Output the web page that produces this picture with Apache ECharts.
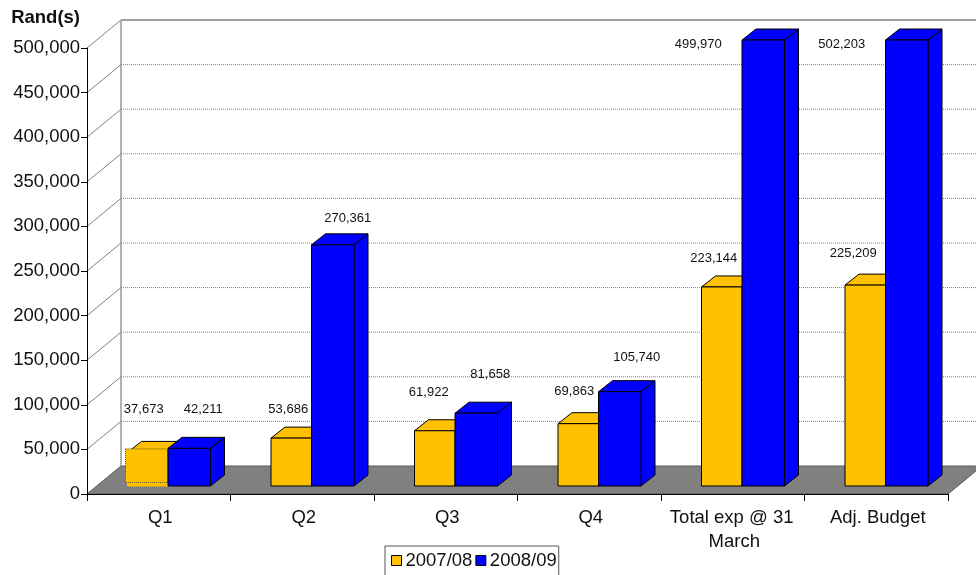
<!DOCTYPE html>
<html>
<head>
<meta charset="utf-8">
<style>html,body{margin:0;padding:0;background:#fff;overflow:hidden}#c{width:976px;height:575px}</style>
<script src="https://cdn.jsdelivr.net/npm/echarts@6/dist/echarts.min.js"></script>
</head>
<body>
<div id="c"></div>
<script>
const categories = ['Q1', 'Q2', 'Q3', 'Q4', 'Total exp @ 31 March', 'Adj. Budget'];
const seriesNames = ['2007/08', '2008/09'];
const values0708 = [37673, 53686, 61922, 69863, 223144, 225209];
const values0809 = [42211, 270361, 81658, 105740, 499970, 502203];
const axisTicks = [0, 50000, 100000, 150000, 200000, 250000, 300000, 350000, 400000, 450000, 500000];

// layout constants (pixels)
const AXIS_MAX = 500000;
const WALL_DX = 34, WALL_DY = -28;      // depth of the 3D box
const BAR_W0 = 40.5, BAR_W1 = 42.5, BAR_DX = 9.25, BAR_DY = -8; // bar placement on the floor
const SIDE_DX = 14, SIDE_DY = -11;      // depth of each bar
const labelNudge0708 = [[-4,-43],[-3,-29],[-6,-38],[-4,-32],[-8,-29],[-12,-32]];
const labelNudge0809 = [[14,-39],[15,-26],[14,-39],[17,-34],[-65,4],[-65,4]];

const fmt = v => String(v).replace(/\B(?=(\d{3})+$)/g, ',');

function frameItem(params, api) {
  const v = api.value(1);
  const band = api.size([1, 0])[0];
  const p = api.coord([0, v]);
  const x0 = p[0] - band / 2, y = p[1];
  const x1 = x0 + band * categories.length;
  const bx = x0 + WALL_DX, by = y + WALL_DY;
  const children = [];
  if (v === 0) {
    children.push({ type: 'polygon', shape: { points: [[x0, y], [bx, by], [x1 + WALL_DX, by], [x1, y]] },
      style: { fill: '#808080', stroke: '#5a5a5a', lineWidth: 1 } });
  } else {
    children.push({ type: 'line', shape: { x1: x0, y1: y, x2: bx, y2: by },
      style: { stroke: '#808080', lineWidth: 1 } });
    children.push({ type: 'line', shape: { x1: bx, y1: by, x2: x1 + WALL_DX, y2: by },
      style: v === AXIS_MAX ? { stroke: '#808080', lineWidth: 1.5 }
                            : { stroke: '#808080', lineWidth: 1, lineDash: [1, 1] } });
  }
  if (v === AXIS_MAX) {
    const base = api.coord([0, 0]);
    children.push({ type: 'line', shape: { x1: bx, y1: by, x2: bx, y2: base[1] + WALL_DY },
      style: { stroke: '#999', lineWidth: 1.5 } });
  }
  return { type: 'group', children };
}

function barItem(seriesIdx, nudges, color) {
  return function (params, api) {
    const i = api.value(0), raw = api.value(1);
    const shown = Math.min(raw, AXIS_MAX);
    const c = api.coord([i, 0]), t = api.coord([i, shown]);
    const w = seriesIdx === 0 ? BAR_W0 : BAR_W1;
    const xL = c[0] + BAR_DX + (seriesIdx === 0 ? -w : 0);
    const xR = xL + w;
    const yB = c[1] + BAR_DY, yT = t[1] + BAR_DY;
    const selected = seriesIdx === 0 && i === 0;
    const face = { fill: color, stroke: selected ? color : '#000', lineWidth: 1, lineJoin: 'round' };
    const poly = (pts, style) => ({ type: 'polygon', shape: { points: pts }, style: style || face });
    const children = [
      poly([[xR, yB], [xR + SIDE_DX, yB + SIDE_DY], [xR + SIDE_DX, yT + SIDE_DY], [xR, yT]]),
      poly([[xL, yT], [xL + SIDE_DX, yT + SIDE_DY], [xR + SIDE_DX, yT + SIDE_DY], [xR, yT]],
           { fill: color, stroke: '#000', lineWidth: 1, lineJoin: 'round' }),
      poly([[xL, yT], [xR, yT], [xR, yB], [xL, yB]])
    ];
    if (selected) {
      children.push({ type: 'rect', shape: { x: xL - 2, y: yT - 3.5, width: w + 1.5, height: yB - yT },
        style: { fill: color, stroke: '#5e4f1a', lineWidth: 1, lineDash: [1, 1] } });
    }
    const n = nudges[i];
    children.push({ type: 'text', style: {
      x: (xL + xR) / 2 + n[0], y: yT + n[1], text: fmt(raw),
      align: 'center', verticalAlign: 'middle',
      font: '13px "Liberation Sans", Arial, sans-serif', fill: '#111' } });
    return { type: 'group', children };
  };
}

const chart = echarts.init(document.getElementById('c'), null, { renderer: 'canvas' });
chart.setOption({
  animation: false,
  backgroundColor: '#fff',
  textStyle: { fontFamily: '"Liberation Sans", Arial, sans-serif' },
  grid: { left: 87, top: 48, width: 861, height: 446, containLabel: false },
  legend: {
    data: seriesNames, left: 385, top: 546, orient: 'horizontal',
    padding: [5, 2, 40, 6], itemGap: 3, itemWidth: 10, itemHeight: 10,
    borderColor: '#555', borderWidth: 1, backgroundColor: '#fff',
    icon: 'rect',
    itemStyle: { borderColor: '#000', borderWidth: 1 },
    textStyle: { fontSize: 18.5, color: '#111', padding: [3, 0, 0, -1] },
    selectedMode: false
  },
  tooltip: { show: false },
  xAxis: {
    type: 'category', data: categories, z: 6,
    axisLine: { lineStyle: { color: '#000', width: 1 } },
    axisTick: { show: true, length: 7, lineStyle: { color: '#000' } },
    axisLabel: { interval: 0, fontSize: 18.5, color: '#111', margin: 12, lineHeight: 24,
      width: 142, overflow: 'break', padding: [0, 0, 0, 3] },
    splitLine: { show: false }
  },
  yAxis: {
    type: 'value', min: 0, max: AXIS_MAX, interval: 50000, z: 6,
    name: 'Rand(s)', nameLocation: 'end', nameGap: 21,
    nameTextStyle: { fontSize: 18.5, fontWeight: 'bold', color: '#111', align: 'right', padding: [0, 7, 0, 0] },
    axisLine: { show: true, lineStyle: { color: '#000', width: 1 } },
    axisTick: { show: true, length: 6, lineStyle: { color: '#000' } },
    axisLabel: { fontSize: 18.5, color: '#111', margin: 7, padding: [3, 0, 0, 0], formatter: v => fmt(v) },
    splitLine: { show: false }
  },
  series: [
    { type: 'custom', name: 'frame', z: 1, silent: true, renderItem: frameItem,
      encode: { x: 0, y: 1 }, data: axisTicks.map(v => [0, v]) },
    { type: 'custom', name: seriesNames[0], z: 3, itemStyle: { color: '#FFC000' },
      renderItem: barItem(0, labelNudge0708, '#FFC000'), encode: { x: 0, y: 1 },
      data: values0708.map((v, i) => [i, v]) },
    { type: 'custom', name: seriesNames[1], z: 4, itemStyle: { color: '#0000FF' },
      renderItem: barItem(1, labelNudge0809, '#0000FF'), encode: { x: 0, y: 1 },
      data: values0809.map((v, i) => [i, v]) }
  ]
});
</script>
</body>
</html>
